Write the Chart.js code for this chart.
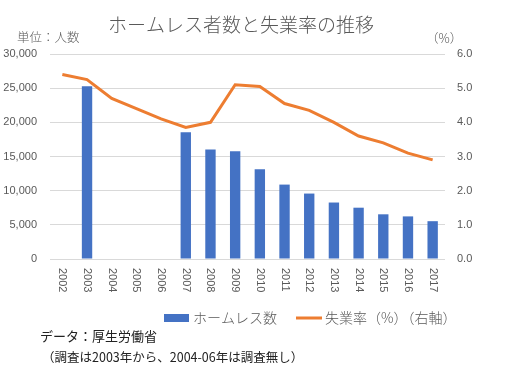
<!DOCTYPE html>
<html>
<head>
<meta charset="utf-8">
<script src="https://cdn.jsdelivr.net/npm/chart.js@4"></script>
<style>
  html, body { margin: 0; padding: 0; background: #fff; }
  #wrap { width: 520px; height: 388px; }
</style>
</head>
<body>
<div id="wrap"><canvas id="chart" width="520" height="388"></canvas></div>
<script>
// ===== DATOS =====
const years = ['2002', '2003', '2004', '2005', '2006', '2007', '2008', '2009', '2010',
               '2011', '2012', '2013', '2014', '2015', '2016', '2017'];
const homeless = [null, 25296, null, null, null, 18564, 16018, 15759, 13124,
                  10890, 9576, 8265, 7508, 6541, 6235, 5534];
const unemployment = [5.4, 5.25, 4.7, 4.4, 4.1, 3.85, 4.0, 5.1, 5.05,
                      4.55, 4.35, 4.0, 3.6, 3.4, 3.1, 2.9];
const leftTicks = [0, 5000, 10000, 15000, 20000, 25000, 30000];
const rightTicks = [0, 1, 2, 3, 4, 5, 6];

const JP = '"Noto Sans CJK JP", "Noto Sans", sans-serif';
const NUM = '"Liberation Sans", Arial, sans-serif';
const GREY = '#595959';
const BLUE = '#4472C4';
const ORANGE = '#ED7D31';

// Textos extra: título, unidades, leyenda, nota
const extras = {
    id: 'extras',
    afterDraw(chart) {
        const ctx = chart.ctx;
        const x = chart.scales.x;
        ctx.save();
        // etiquetas del eje X giradas (lectura de arriba hacia abajo)
        ctx.fillStyle = GREY;
        ctx.font = '11px ' + NUM;
        ctx.textAlign = 'left';
        ctx.textBaseline = 'middle';
        years.forEach((y, i) => {
            ctx.save();
            ctx.translate(x.getPixelForTick(i), 268);
            ctx.rotate(Math.PI / 2);
            ctx.fillText(y, 0, 0);
            ctx.restore();
        });
        // título
        ctx.textAlign = 'center';
        ctx.font = '300 19px ' + JP;
        ctx.fillText('ホームレス者数と失業率の推移', 241, 25);
        ctx.textAlign = 'left';
        ctx.font = '300 12.5px ' + JP;
        ctx.fillText('単位：人数', 17, 37);
        ctx.fillText('（%）', 426, 38);
        // leyenda
        const ds = chart.data.datasets;
        ctx.font = '300 14px ' + JP;
        ctx.fillStyle = BLUE;
        ctx.fillRect(164, 314, 25, 8);
        ctx.fillStyle = GREY;
        ctx.fillText(ds[0].label, 193, 318);
        ctx.strokeStyle = ORANGE;
        ctx.lineWidth = 3;
        ctx.beginPath();
        ctx.moveTo(296, 318);
        ctx.lineTo(322, 318);
        ctx.stroke();
        ctx.fillText(ds[1].label, 325, 318);
        // nota de fuente
        ctx.fillStyle = '#222';
        ctx.font = '13px ' + JP;
        ctx.fillText('データ：厚生労働省', 40, 336);
        ctx.font = '12.5px ' + JP;
        ctx.fillText('（調査は2003年から、2004-06年は調査無し）', 42, 357);
        ctx.restore();
    }
};

new Chart(document.getElementById('chart'), {
    data: {
        labels: years,
        datasets: [
            { type: 'bar', label: 'ホームレス数', data: homeless, backgroundColor: BLUE,
              yAxisID: 'y', barPercentage: 0.42, categoryPercentage: 1, order: 2 },
            { type: 'line', label: '失業率（%）（右軸）', data: unemployment, borderColor: ORANGE,
              borderWidth: 3, pointRadius: 0, tension: 0, yAxisID: 'y2', order: 1 }
        ]
    },
    options: {
        responsive: false,
        animation: false,
        layout: { padding: { left: 0, right: 0, top: 54, bottom: 0 } },
        plugins: { legend: { display: false }, tooltip: { enabled: false } },
        scales: {
            x: {
                offset: true,
                grid: { display: false },
                border: { display: false },
                ticks: { display: false },
                afterFit: s => { s.height = 129; }
            },
            y: {
                position: 'left',
                min: 0, max: 30000,
                afterBuildTicks: s => { s.ticks = leftTicks.map(v => ({ value: v })); },
                grid: { color: '#d9d9d9', drawTicks: false },
                border: { display: false },
                ticks: { color: GREY, font: { family: NUM, size: 11 }, padding: 13,
                         callback: v => v.toLocaleString('en-US') },
                afterFit: s => { s.width = 50; }
            },
            y2: {
                position: 'right',
                min: 0, max: 6,
                afterBuildTicks: s => { s.ticks = rightTicks.map(v => ({ value: v })); },
                grid: { display: false, drawTicks: false },
                border: { display: false },
                ticks: { color: GREY, font: { family: NUM, size: 11 }, padding: 12,
                         callback: v => v.toFixed(1) },
                afterFit: s => { s.width = 75; }
            }
        }
    },
    plugins: [extras]
});
</script>
</body>
</html>
